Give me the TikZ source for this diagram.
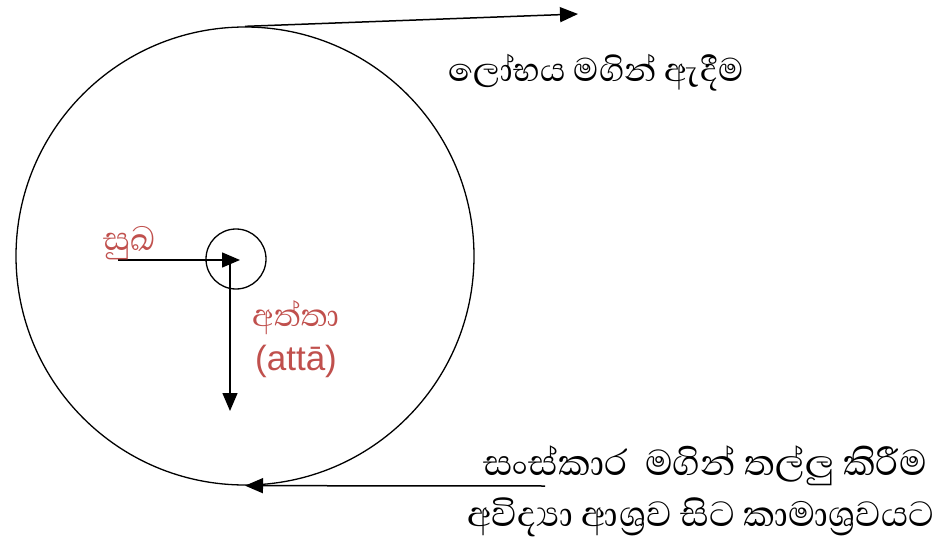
\documentclass[tikz,border=0pt]{standalone}
\usepackage{fontspec}
\usetikzlibrary{arrows.meta,positioning}
\setsansfont{Liberation Sans}
\newfontfamily\sinhala[Script=Sinhala]{Abhaya Libre}
\definecolor{attared}{HTML}{C0504D}

\tikzset{
    ring/.style={draw, circle, line width=1.3pt, inner sep=0pt},
    push/.style={-{Triangle[length=18pt, width=15pt]}, line width=1.5pt},
    sinlabel/.style={font=\sinhala\fontsize{45}{48}\selectfont, inner sep=0pt, anchor=west},
}

\begin{document}
\begin{tikzpicture}[x=1pt, y=-1pt]
    \useasboundingbox (0,0) rectangle (947,540);

    \node[ring, minimum size=458pt] (outer) at (245,256) {};
    \node[ring, minimum size=60pt] (inner) at (236,259) {};

    % arrows
    \coordinate (pulltip) at (578,14);
    \coordinate (pushstart) at (545,486);
    \coordinate (sukhaend) at (240,260);
    \coordinate (attaend) at (230,411);
    \draw[push] (outer.north) -- (pulltip);
    \draw[push] (pushstart) -- (outer.south);
    \draw[push] (118,260) coordinate (sukhastart) -- (sukhaend);
    \draw[push] (230,260) coordinate (attastart) -- (attaend);

    % labels
    \node[sinlabel, font=\sinhala\fontsize{42}{46}\selectfont] (lobha) at (448,73) {ලෝභය මගින් ඇදීම};
    \node[sinlabel, font=\sinhala\fontsize{42}{46}\selectfont, text=attared] (sukha) at (103,243) {සුඛ};
    \node[sinlabel, font=\sinhala\fontsize{40}{44}\selectfont, text=attared] (atta) at (252,318) {අත්තා};
    \node[font=\sffamily\fontsize{35}{40}\selectfont, text=attared, inner sep=0pt, anchor=west] (attalatin) at (255,361) {(attā)};
    \node[sinlabel, font=\sinhala\fontsize{46}{50}\selectfont] (sankhara) at (483,466) {සංස්කාර\ \ මගින් තල්ලු කිරීම};
    \node[sinlabel] (avijja) at (467,517) {අවිද්‍යා ආශ්‍රව සිට කාමාශ්‍රවයට};
\end{tikzpicture}
\end{document}
